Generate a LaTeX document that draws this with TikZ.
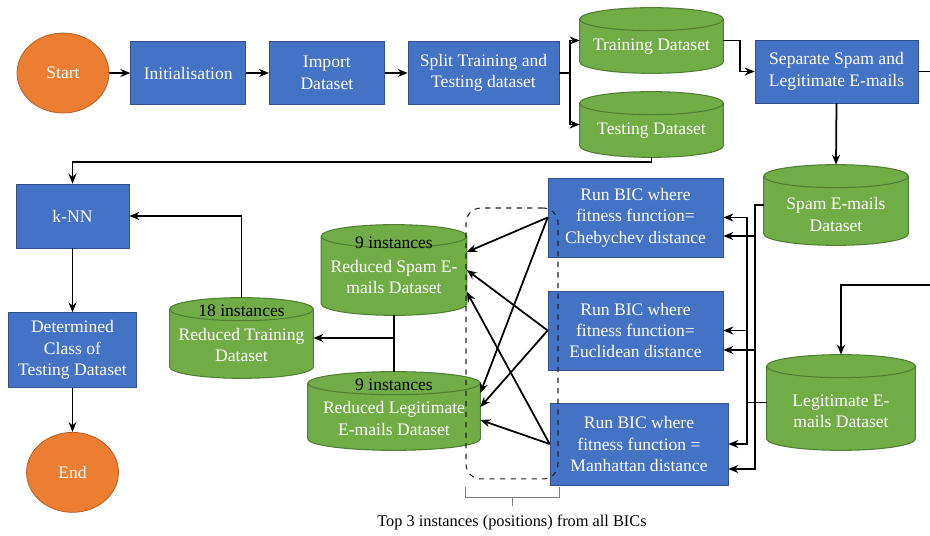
\documentclass[tikz,border=0pt]{standalone}
\usepackage{fontspec}
\setmainfont{Liberation Serif}
\usetikzlibrary{arrows.meta,positioning,shapes.geometric,calc,backgrounds}

\definecolor{boxblue}{HTML}{4472C4}
\definecolor{blueline}{HTML}{2F528F}
\definecolor{dbgreen}{HTML}{70AD47}
\definecolor{greenline}{HTML}{507E32}
\definecolor{termorange}{HTML}{ED7D31}
\definecolor{orangeline}{HTML}{AE5A21}

\begin{document}
\begin{tikzpicture}[
  x=0.02cm, y=-0.02cm,
  font=\fontsize{10}{12.2}\selectfont,
  box/.style={draw=blueline, fill=boxblue, text=white, align=center, minimum height=12.6mm, inner sep=2pt},
  db/.style={rectangle, inner sep=0pt},
  dbtext/.style={text=white, align=center},
  term/.style={ellipse, draw=orangeline, fill=termorange, text=white, minimum width=18.4mm, minimum height=16mm},
  arrow/.style={-{Stealth[length=2mm,width=1.6mm]}, line width=1pt},
  link/.style={line width=1pt}
]
\useasboundingbox (0,0) rectangle (930,536);
\clip (0,0) rectangle (930,536);

% top row
\node[term] (start) at (63,73) {Start};
\node[box, minimum width=23mm, right=4.2mm of start] (init) {Initialisation};
\node[box, minimum width=23mm, right=4.6mm of init] (imp) {Import\\Dataset};
\node[box, minimum width=30.2mm, right=4.6mm of imp] (split) {Split Training and\\Testing dataset};
\node[db, minimum width=28.6mm, minimum height=13mm, label={[dbtext,yshift=-1.3mm]center:Training Dataset}] (train) at (651.5,40.5) {};
\node[db, minimum width=28.6mm, minimum height=13mm, label={[dbtext,yshift=-1.3mm]center:Testing Dataset}] (test) at (651.5,124.5) {};
\node[box, minimum width=32.6mm] (sep) at (836.5,71.5) {Separate Spam and\\Legitimate E-mails};

% left column
\node[box, minimum width=22.6mm, minimum height=12.8mm] (knn) at (72.5,216) {k-NN};
\node[box, minimum width=25.6mm, minimum height=15mm, below=12.8mm of knn] (det) {Determined\\Class of\\Testing Dataset};
\node[term, below=8.8mm of det] (end) {End};

% reduced datasets
\node[db, minimum width=28.6mm, minimum height=16mm, label={[dbtext,yshift=0.9mm]center:\textcolor{black}{18 instances}\\[1pt]Reduced Training\\Dataset}] (redtrain) at (241.5,338) {};
\node[db, minimum width=29mm, minimum height=18mm, label={[dbtext,yshift=0.9mm]center:\textcolor{black}{9 instances}\\[1pt]Reduced Spam E-\\mails Dataset}] (redspam) at (394,270) {};
\node[db, minimum width=34.4mm, minimum height=15.6mm, label={[dbtext,yshift=0.8mm]center:\textcolor{black}{9 instances}\\[1pt]Reduced Legitimate\\E-mails Dataset}] (redleg) at (394,411) {};

% BICs
\node[box, minimum width=35mm, minimum height=15.8mm] (cheb) at (635.5,217.5) {Run BIC where\\fitness function=\\Chebychev distance};
\node[box, minimum width=35mm, minimum height=15.8mm] (eucl) at (635.5,330.5) {Run BIC where\\fitness function=\\Euclidean distance};
\node[box, minimum width=35.6mm, minimum height=16.4mm] (manh) at (639,444) {Run BIC where\\fitness function =\\Manhattan distance};

% spam / legitimate
\node[db, minimum width=28.8mm, minimum height=16mm, label={[dbtext,yshift=-1.9mm]center:Spam E-mails\\Dataset}] (spam) at (836,205) {};
\node[db, minimum width=29.6mm, minimum height=19mm, label={[dbtext,yshift=-1.8mm]center:Legitimate E-\\mails Dataset}] (legit) at (841,402.5) {};

% cylinder bodies
\begin{scope}[on background layer]
\foreach \db in {train,test,spam,legit,redtrain,redspam,redleg} {
  \filldraw[fill=dbgreen, draw=greenline, line width=0.6pt]
    let \p1 = ($(\db.east)-(\db.west)$) in
    ([yshift=-2.3mm]\db.north west) -- ([yshift=2.3mm]\db.south west)
    arc[start angle=180, end angle=360, x radius=0.5*\x1, y radius=2.3mm]
    -- ([yshift=-2.3mm]\db.north east)
    arc[start angle=0, end angle=180, x radius=0.5*\x1, y radius=2.3mm]
    -- cycle;
  \draw[greenline, line width=0.6pt]
    let \p1 = ($(\db.east)-(\db.west)$) in
    ([yshift=-2.3mm]\db.north west)
    arc[start angle=180, end angle=360, x radius=0.5*\x1, y radius=2.3mm];
}
\end{scope}

% selection box
\node[draw=black!85, dashed, line width=0.6pt, rounded corners=3mm, minimum width=18.4mm, minimum height=54.2mm] (sel) at (512,343.5) {};
\draw[black!50] (465,487) -- (465,497) -- (559,497) -- (559,487);
\draw[black!50] (512,497) -- (512,506);
\node[font=\fontsize{9.3}{11}\selectfont] (note) at (512,522) {Top 3 instances (positions) from all BICs};

% flow
\draw[arrow] (start) -- (init);
\draw[arrow] (init) -- (imp);
\draw[arrow] (imp) -- (split);
\draw[arrow] (split.east) -- ++(11,0) |- (train.west);
\draw[arrow] (split.east) -- ++(11,0) |- (test.west);
\draw[arrow] (train.east) -- ++(17,0) |- (sep.west);
\draw[arrow] (test.south) -- ++(0,5) -| (knn.north);
\draw[arrow] (sep.south) -- (spam.north);
\draw[arrow] (sep.east) -- ++(45,0) |- ([yshift=1.4cm]legit.north) -- (legit.north);
\draw[arrow] (knn) -- (det);
\draw[arrow] (det) -- (end);
\draw[arrow] (redtrain.north) |- (knn.east);
\draw[link] (redspam.south) -- (redleg.north);
\draw[arrow] (redspam.south |- redtrain.east) -- (redtrain.east);

% datasets to BICs
\draw[arrow] (legit.west) -- ++(-20,0) |- (cheb.east);
\draw[arrow] (legit.west) -- ++(-20,0) |- (eucl.east);
\draw[arrow] (legit.west) -- ++(-20,0) |- (manh.east);
\draw[arrow] (spam.west) -- ++(-9,0) |- ([yshift=-0.37cm]cheb.east);
\draw[arrow] (spam.west) -- ++(-9,0) |- ([yshift=-0.39cm]eucl.east);
\draw[arrow] (spam.west) -- ++(-9,0) |- ([yshift=-0.5cm]manh.east);

% BICs to reduced datasets
\draw[arrow] (cheb.west) -- ([yshift=0.36cm]redspam.east);
\draw[arrow] (cheb.west) -- ([yshift=0.36cm]redleg.east);
\draw[arrow] (eucl.west) -- (redspam.east);
\draw[arrow] (eucl.west) -- ([yshift=0.08cm]redleg.east);
\draw[arrow] (manh.west) -- ([yshift=-0.44cm]redspam.east);
\draw[arrow] (manh.west) -- ([yshift=-0.18cm]redleg.east);
\end{tikzpicture}
\end{document}
